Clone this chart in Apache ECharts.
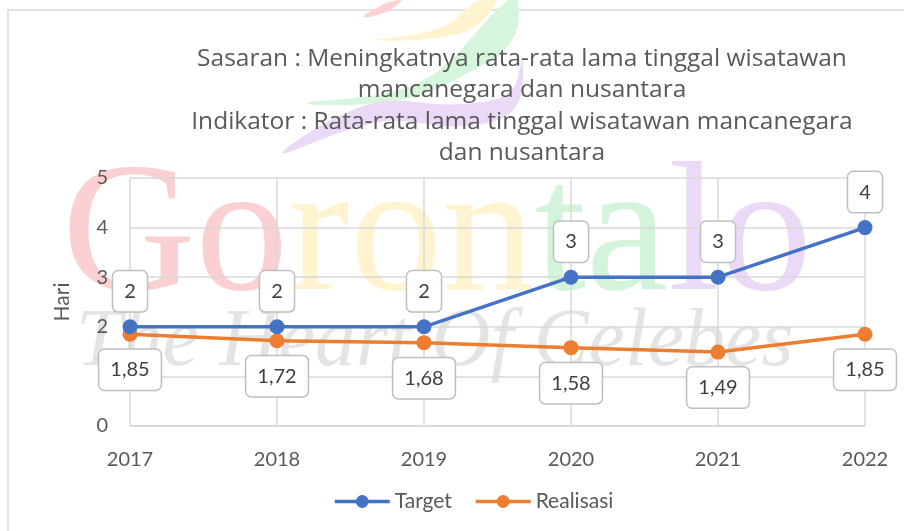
<!DOCTYPE html>
<html>
<head>
<meta charset="utf-8">
<script src="https://cdn.jsdelivr.net/npm/echarts@6/dist/echarts.min.js"></script>
<style>
  html,body{margin:0;padding:0;background:#fff}
  #chart{width:904px;height:531px}
</style>
</head>
<body>
<div id="chart"></div>
<script>
// data
var years = ['2017', '2018', '2019', '2020', '2021', '2022'];
var target = [2, 2, 2, 3, 3, 4];
var realisasi = [1.85, 1.72, 1.68, 1.58, 1.49, 1.85];
var yTicks = [0, 1, 2, 3, 4, 5];

var font = 'Lato, "Open Sans", sans-serif';
var txt = '#595959';

var boxLabel = {
  show: true,
  fontFamily: font,
  fontSize: 20,
  color: '#404040',
  backgroundColor: '#fff',
  borderColor: '#bfbfbf',
  borderWidth: 1.5,
  borderRadius: 5,
  padding: [10, 11, 10, 11],
  distance: 8,
  formatter: function (p) { return String(p.value).replace('.', ','); }
};

// watermark leaf outline (decoration only)
function leaf(points, fill) {
  return { type: 'polygon', z: -15, silent: true,
    shape: { points: points, smooth: 0.4 }, style: { fill: fill } };
}

var option = {
  animation: false,
  title: {
    text: 'Sasaran : Meningkatnya rata-rata lama tinggal wisatawan\nmancanegara dan nusantara\nIndikator : Rata-rata lama tinggal wisatawan mancanegara\ndan nusantara',
    left: 517,
    top: 38,
    textAlign: 'center',
    textStyle: {
      fontFamily: '"Open Sans", sans-serif', fontSize: 24.5, fontWeight: 'normal', color: txt, lineHeight: 31.5, align: 'center'
    }
  },
  graphic: [
    // outer chart border
    { type: 'rect', z: -20, shape: { x: 8, y: 10, width: 1000, height: 600 },
      style: { fill: 'none', stroke: '#d9d9d9', lineWidth: 1.5 } },
    // background watermark leaves
    leaf([[363, 17], [380, 6], [396, 0], [402, 0], [386, 12]], '#fbd3d3'),
    leaf([[373, 40], [440, 28], [480, 0], [497, 0], [465, 32]], '#fff4cf'),
    leaf([[307, 103], [420, 82], [508, 0], [518, 0], [512, 40], [470, 72], [400, 100]], '#d5f5dc'),
    leaf([[283, 153], [370, 104], [460, 104], [510, 92], [522, 58], [515, 108], [465, 126], [380, 122]], '#ebdaf7'),
    // background watermark text
    { type: 'text', z: -15, left: 62, top: 148, silent: true,
      style: {
        text: '{r|Go}{y|ron}{g|ta}{p|lo}',
        font: '185px "Liberation Serif", serif',
        rich: {
          r: { fill: '#fad0d2', font: '185px "Liberation Serif", serif' },
          y: { fill: '#fff4cf', font: '185px "Liberation Serif", serif' },
          g: { fill: '#d3f4db', font: '185px "Liberation Serif", serif' },
          p: { fill: '#eadaf7', font: '185px "Liberation Serif", serif' }
        }
      } },
    { type: 'text', z: -15, left: 76, top: 302, silent: true,
      style: {
        text: 'The Heart Of Celebes',
        font: 'italic 82px "Liberation Serif", serif',
        fill: '#e4e4e4'
      } }
  ],
  legend: {
    bottom: 14,
    left: 328,
    itemWidth: 55,
    itemHeight: 16,
    itemGap: 22,
    lineStyle: { width: 3.5 },
    textStyle: { fontFamily: font, fontSize: 21, color: txt },
    data: ['Target', 'Realisasi']
  },
  grid: { left: 130, right: 39, top: 178, bottom: 105 },
  xAxis: {
    type: 'category',
    data: years,
    boundaryGap: false,
    axisLine: { lineStyle: { color: '#d9d9d9', width: 1.5 } },
    axisTick: { show: false },
    splitLine: { show: true, lineStyle: { color: '#d9d9d9', width: 1.5 } },
    axisLabel: { margin: 24, fontFamily: font, fontSize: 20, color: txt }
  },
  yAxis: {
    type: 'value',
    min: yTicks[0],
    max: yTicks[yTicks.length - 1],
    interval: 1,
    name: 'Hari',
    nameLocation: 'middle',
    nameGap: 57,
    nameTextStyle: { fontFamily: font, fontSize: 21, color: txt },
    axisLine: { show: false },
    axisTick: { show: false },
    splitLine: { lineStyle: { color: '#d9d9d9', width: 1.5 } },
    axisLabel: { margin: 22, fontFamily: font, fontSize: 20, color: txt }
  },
  series: [
    {
      name: 'Target', type: 'line', data: target,
      color: '#4472C4',
      symbol: 'circle', symbolSize: 15,
      lineStyle: { width: 3.5 },
      label: Object.assign({}, boxLabel, { position: 'top' }),
      z: 3
    },
    {
      name: 'Realisasi', type: 'line', data: realisasi,
      color: '#ED7D31',
      symbol: 'circle', symbolSize: 15,
      lineStyle: { width: 3.5 },
      label: Object.assign({}, boxLabel, { position: 'bottom' }),
      z: 2
    }
  ]
};

var chart = echarts.init(document.getElementById('chart'));
chart.setOption(option);
</script>
</body>
</html>
